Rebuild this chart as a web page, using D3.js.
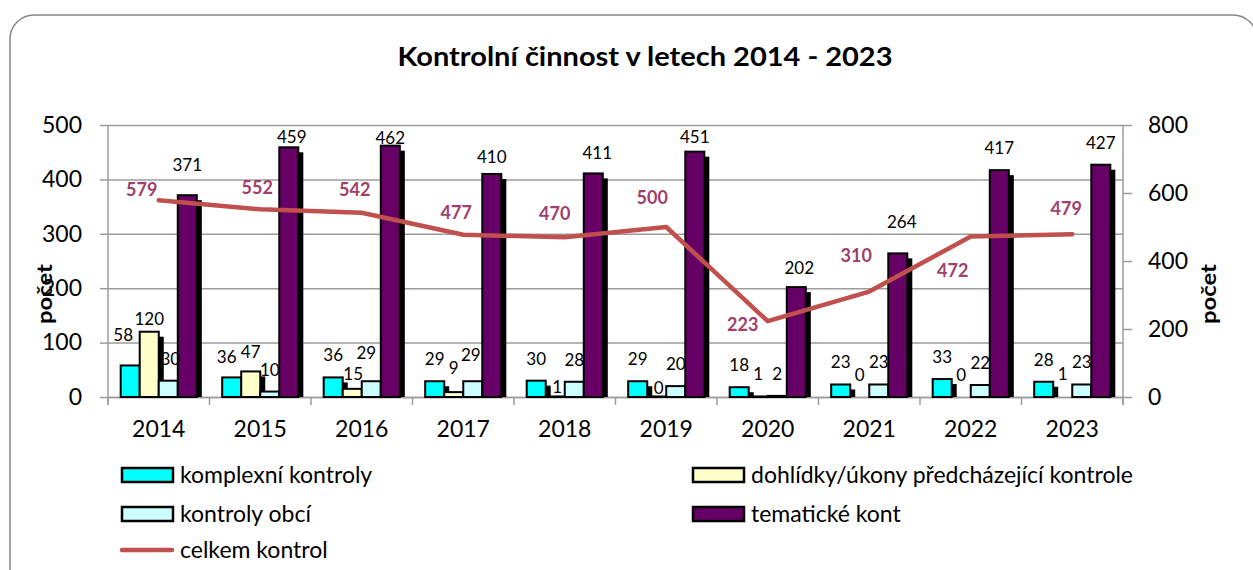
<!DOCTYPE html>
<html>
<head>
<meta charset="utf-8">
<script src="https://cdnjs.cloudflare.com/ajax/libs/d3/7.8.5/d3.min.js"></script>
<style>
    body { margin: 0; background: #fff; }
    text { font-family: Lato, "Open Sans", sans-serif; }
</style>
</head>
<body>
<div id="chart"></div>
<script>
// data
var roky = ["2014", "2015", "2016", "2017", "2018", "2019", "2020", "2021", "2022", "2023"];
var komplexni = [58, 36, 36, 29, 30, 29, 18, 23, 33, 28];
var dohlidky = [120, 47, 15, 9, 1, 0, 1, 0, 0, 1];
var obce = [30, 10, 29, 29, 28, 20, 2, 23, 22, 23];
var tematicke = [371, 459, 462, 410, 411, 451, 202, 264, 417, 427];
var celkem = [579, 552, 542, 477, 470, 500, 223, 310, 472, 479];
var leftTicks = [0, 100, 200, 300, 400, 500];
var rightTicks = [0, 200, 400, 600, 800];

var serie = [
    { name: "komplexní kontroly", values: komplexni, fill: "#00FFFF" },
    { name: "dohlídky/úkony předcházející kontrole", values: dohlidky, fill: "#FFFFCC" },
    { name: "kontroly obcí", values: obce, fill: "#CCFFFF" },
    { name: "tematické kont", values: tematicke, fill: "#660066" }
];

var w = 1253;
var h = 570;
var plot = { left: 108, right: 1123, top: 125, bottom: 397 };

var svg = d3.select("#chart")
    .append("svg")
    .attr("width", w)
    .attr("height", h);

// rounded frame
svg.append("rect")
    .attr("x", 10).attr("y", 15)
    .attr("width", 1247).attr("height", 600)
    .attr("rx", 24).attr("ry", 24)
    .attr("fill", "#fff")
    .attr("stroke", "#868686")
    .attr("stroke-width", 1.5);

svg.append("text")
    .attr("x", 645)
    .attr("y", 66)
    .attr("text-anchor", "middle")
    .attr("font-size", 26)
    .attr("font-weight", "bold")
    .attr("textLength", 495)
    .attr("lengthAdjust", "spacingAndGlyphs")
    .text("Kontrolní činnost v letech 2014 - 2023");

var x = d3.scaleBand()
    .domain(roky)
    .range([plot.left, plot.right])
    .paddingInner(0.25)
    .paddingOuter(0.125);

var xs = d3.scaleBand()
    .domain(d3.range(serie.length))
    .range([0, x.bandwidth()]);

var y = d3.scaleLinear().domain([0, 500]).range([plot.bottom, plot.top]);
var y2 = d3.scaleLinear().domain([0, 800]).range([plot.bottom, plot.top]);

var gridColor = "#9c9c9c";

// gridlines + left axis
var gLeft = svg.append("g")
    .attr("transform", "translate(" + plot.left + ",0)")
    .call(d3.axisLeft(y).tickValues(leftTicks).tickSize(8).tickPadding(18));
gLeft.select(".domain").remove();
gLeft.selectAll("line").attr("stroke", gridColor).attr("stroke-width", 1.5);
gLeft.selectAll(".tick")
    .append("line")
    .attr("x1", 0).attr("x2", plot.right - plot.left)
    .attr("stroke", gridColor).attr("stroke-width", 1.5);
gLeft.selectAll("text")
    .attr("font-size", 23)
    .attr("fill", "#000")
    .attr("font-family", "Lato, sans-serif");
svg.append("line")
    .attr("x1", plot.left).attr("x2", plot.left)
    .attr("y1", plot.top).attr("y2", plot.bottom + 8)
    .attr("stroke", gridColor).attr("stroke-width", 1.5);

// right axis
var gRight = svg.append("g")
    .attr("transform", "translate(" + plot.right + ",0)")
    .call(d3.axisRight(y2).tickValues(rightTicks).tickSize(9).tickPadding(16));
gRight.select(".domain").remove();
gRight.selectAll("line").attr("stroke", gridColor).attr("stroke-width", 1.5);
gRight.selectAll("text")
    .attr("font-size", 23)
    .attr("fill", "#000")
    .attr("font-family", "Lato, sans-serif");
svg.append("line")
    .attr("x1", plot.right).attr("x2", plot.right)
    .attr("y1", plot.top).attr("y2", plot.bottom + 8)
    .attr("stroke", gridColor).attr("stroke-width", 1.5);

// x axis, ticks between categories
var gX = svg.append("g")
    .attr("transform", "translate(0," + plot.bottom + ")")
    .call(d3.axisBottom(x).tickSize(0).tickPadding(24));
gX.select(".domain").attr("stroke", gridColor).attr("stroke-width", 1.5);
gX.selectAll("text")
    .attr("font-size", 23)
    .attr("fill", "#000")
    .attr("font-family", "Lato, sans-serif");
gX.selectAll(".sep")
    .data(d3.range(roky.length + 1))
    .enter()
    .append("line")
    .attr("x1", (d) => plot.left + d * x.step())
    .attr("x2", (d) => plot.left + d * x.step())
    .attr("y1", 0).attr("y2", 8)
    .attr("stroke", gridColor).attr("stroke-width", 1.5);

// axis titles
[45, 1209].forEach(function (cx) {
    svg.append("text")
        .attr("transform", "translate(" + cx + ",294) rotate(-90)")
        .attr("text-anchor", "middle")
        .attr("dy", "0.35em")
        .attr("font-size", 21)
        .attr("font-weight", "bold")
        .attr("textLength", 60)
        .attr("lengthAdjust", "spacingAndGlyphs")
        .text("počet");
});

// bars with black shadow
svg.append("clipPath").attr("id", "plotclip")
    .append("rect")
    .attr("x", plot.left).attr("y", 0)
    .attr("width", plot.right - plot.left).attr("height", plot.bottom);

var gBars = svg.append("g");
var shadow = 5;
serie.forEach(function (s, si) {
    var g = gBars.append("g");
    g.selectAll(".shadow")
        .data(s.values)
        .enter()
        .append("rect")
        .attr("clip-path", "url(#plotclip)")
        .attr("x", (d, i) => x(roky[i]) + xs(si) + shadow)
        .attr("y", (d) => y(d) + shadow)
        .attr("width", xs.bandwidth())
        .attr("height", (d) => Math.max(0, plot.bottom - y(d) - shadow))
        .attr("fill", "#000");
    g.selectAll(".bar")
        .data(s.values)
        .enter()
        .filter((d) => d > 0)
        .append("rect")
        .attr("x", (d, i) => x(roky[i]) + xs(si))
        .attr("y", (d) => y(d))
        .attr("width", xs.bandwidth())
        .attr("height", (d) => plot.bottom - y(d))
        .attr("fill", s.fill)
        .attr("stroke", "#000")
        .attr("stroke-width", 2);
});

// total line on right axis
var line = d3.line()
    .x((d, i) => x(roky[i]) + x.bandwidth() / 2)
    .y((d) => y2(d));

svg.append("path")
    .datum(celkem)
    .attr("fill", "none")
    .attr("stroke", "#C0504D")
    .attr("stroke-width", 4.5)
    .attr("stroke-linejoin", "round")
    .attr("stroke-linecap", "round")
    .attr("d", line);

// bar value labels (moved by hand like in the original)
var barNudge = {
    "2014|0": [-7, -30], "2014|1": [0, -13], "2014|2": [2, -22], "2014|3": [0, -30],
    "2015|0": [-5, -20], "2015|1": [0, -19], "2015|3": [3, -10],
    "2016|1": [1, -15], "2016|2": [-5, -28], "2016|3": [0, -8],
    "2017|1": [0, -24], "2017|2": [-2, -26], "2017|3": [0, -17],
    "2018|1": [2, -9], "2018|3": [4, -20],
    "2019|1": [2, -9], "2019|3": [0, -15],
    "2020|3": [3, -19],
    "2021|3": [4, -31]
};
serie.forEach(function (s, si) {
    svg.append("g").selectAll("text")
        .data(s.values)
        .enter()
        .append("text")
        .attr("x", function (d, i) {
            var n = barNudge[roky[i] + "|" + si] || [0, -22];
            return x(roky[i]) + xs(si) + xs.bandwidth() / 2 + n[0];
        })
        .attr("y", function (d, i) {
            var n = barNudge[roky[i] + "|" + si] || [0, -22];
            return y(d) + n[1];
        })
        .attr("dy", "0.35em")
        .attr("text-anchor", "middle")
        .attr("font-size", 17)
        .text((d) => d);
});

// line labels
var lineNudge = [[-17, -10], [-3, -22], [-7, -23], [-7, -22], [-10, -24],
    [-14, -29], [-25, 4], [-13, -36], [-18, 34], [-6, -25]];
svg.append("g").selectAll("text")
    .data(celkem)
    .enter()
    .append("text")
    .attr("x", (d, i) => x(roky[i]) + x.bandwidth() / 2 + lineNudge[i][0])
    .attr("y", (d, i) => y2(d) + lineNudge[i][1])
    .attr("dy", "0.35em")
    .attr("text-anchor", "middle")
    .attr("font-size", 18)
    .attr("font-weight", "bold")
    .attr("fill", "#A0406A")
    .text((d) => d);

// legend
var legend = [
    { s: serie[0], lx: 122, ly: 475 },
    { s: serie[2], lx: 122, ly: 514 },
    { s: serie[1], lx: 693, ly: 475 },
    { s: serie[3], lx: 693, ly: 514 }
];
legend.forEach(function (l) {
    svg.append("rect")
        .attr("x", l.lx).attr("y", l.ly - 7)
        .attr("width", 51).attr("height", 14)
        .attr("fill", l.s.fill)
        .attr("stroke", "#000")
        .attr("stroke-width", 2.5);
    svg.append("text")
        .attr("x", l.lx + 58).attr("y", l.ly)
        .attr("dy", "0.35em")
        .attr("font-size", 23)
        .text(l.s.name);
});
svg.append("line")
    .attr("x1", 122).attr("x2", 172)
    .attr("y1", 550).attr("y2", 550)
    .attr("stroke", "#C0504D")
    .attr("stroke-width", 4.5)
    .attr("stroke-linecap", "round");
svg.append("text")
    .attr("x", 180).attr("y", 550)
    .attr("dy", "0.35em")
    .attr("font-size", 23)
    .text("celkem kontrol");
</script>
</body>
</html>
